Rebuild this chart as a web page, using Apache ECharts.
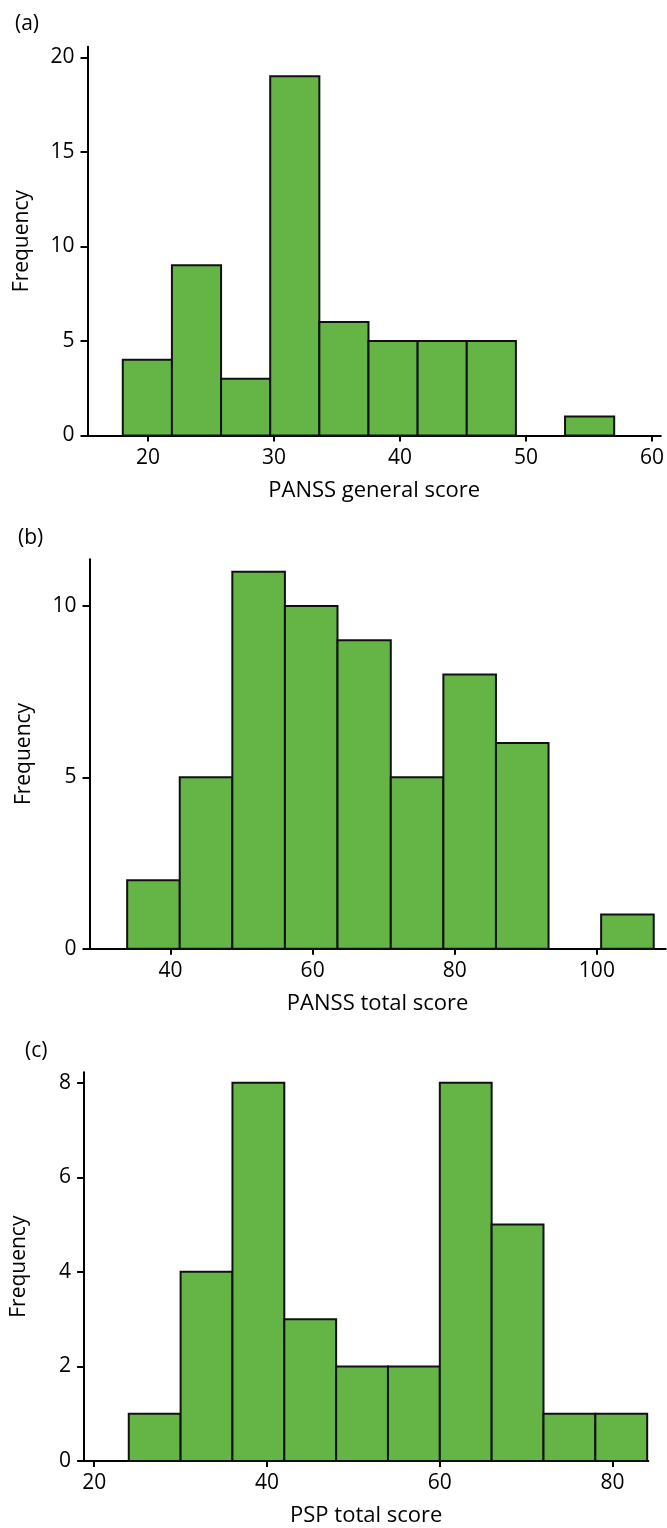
<!DOCTYPE html>
<html>
<head>
<meta charset="utf-8">
<script src="https://cdn.jsdelivr.net/npm/echarts@6/dist/echarts.min.js"></script>
<style>
  html, body { margin: 0; padding: 0; background: #fff; }
  #chart { width: 667px; height: 1528px; }
</style>
</head>
<body>
<div id="chart"></div>
<script>
// bin edges and counts
const edgesA = [18, 21.9, 25.8, 29.7, 33.6, 37.5, 41.4, 45.3, 49.2, 53.1, 57];
const countsA = [4, 9, 3, 19, 6, 5, 5, 5, 0, 1];
const ticksXA = [20, 30, 40, 50, 60];
const ticksYA = [0, 5, 10, 15, 20];

const edgesB = [33.9, 41.3, 48.7, 56.1, 63.5, 71.0, 78.4, 85.8, 93.2, 100.6, 108.0];
const countsB = [2, 5, 11, 10, 9, 5, 8, 6, 0, 1];
const ticksXB = [40, 60, 80, 100];
const ticksYB = [0, 5, 10];

const edgesC = [24, 30, 36, 42, 48, 54, 60, 66, 72, 78, 84];
const countsC = [1, 4, 8, 3, 2, 2, 8, 5, 1, 1];
const ticksXC = [20, 40, 60, 80];
const ticksYC = [0, 2, 4, 6, 8];

const FONT = "Open Sans";
const GREEN = "#64b446";

function binData(edges, counts) {
  let out = [];
  for (let i = 0; i < counts.length; i++) {
    if (counts[i] > 0) out.push([edges[i], edges[i + 1], counts[i]]);
  }
  return out;
}

function renderBin(params, api) {
  const p0 = api.coord([api.value(0), 0]);
  const p1 = api.coord([api.value(1), api.value(2)]);
  return {
    type: "rect",
    shape: { x: p0[0], y: p1[1], width: p1[0] - p0[0], height: p0[1] - p1[1] },
    style: { fill: GREEN, stroke: "#111", lineWidth: 2 },
  };
}

function xAxisOf(idx, min, max, ticks, name) {
  return {
    type: "value", gridIndex: idx, min: min, max: max,
    name: name, nameLocation: "middle", nameGap: 44,
    nameTextStyle: { fontFamily: FONT, fontSize: 22, color: "#000" },
    axisLine: { lineStyle: { color: "#000", width: 2 } },
    axisTick: { show: true, length: 6, customValues: ticks, lineStyle: { color: "#000", width: 2 } },
    axisLabel: { customValues: ticks, fontFamily: FONT, fontSize: 21, color: "#000", margin: 12 },
    splitLine: { show: false },
  };
}

function yAxisOf(idx, max, ticks) {
  return {
    type: "value", gridIndex: idx, min: 0, max: max,
    name: "Frequency", nameLocation: "middle", nameGap: 55, nameRotate: 90,
    nameTextStyle: { fontFamily: FONT, fontSize: 21, color: "#000" },
    axisLine: { show: true, lineStyle: { color: "#000", width: 2 } },
    axisTick: { show: true, length: 7, customValues: ticks, lineStyle: { color: "#000", width: 2 } },
    axisLabel: { customValues: ticks, fontFamily: FONT, fontSize: 21, color: "#000", margin: 13 },
    splitLine: { show: false },
  };
}

const chart = echarts.init(document.getElementById("chart"));
chart.setOption({
  animation: false,
  title: [
    { text: "(a)", left: 10, top: 9, textStyle: { fontFamily: FONT, fontSize: 21, fontWeight: "normal", color: "#000" } },
    { text: "(b)", left: 13, top: 523, textStyle: { fontFamily: FONT, fontSize: 21, fontWeight: "normal", color: "#000" } },
    { text: "(c)", left: 20, top: 1036, textStyle: { fontFamily: FONT, fontSize: 21, fontWeight: "normal", color: "#000" } },
  ],
  grid: [
    { left: 87.5, top: 46.7, width: 576.5, height: 388.8 },
    { left: 89.5, top: 559.3, width: 576.3, height: 389.4 },
    { left: 84.1, top: 1072.3, width: 564.2, height: 388.7 },
  ],
  xAxis: [
    xAxisOf(0, 15.2, 60.7, ticksXA, "PANSS general score"),
    xAxisOf(1, 28.6, 109.7, ticksXB, "PANSS total score"),
    xAxisOf(2, 18.83, 84.13, ticksXC, "PSP total score"),
  ],
  yAxis: [
    yAxisOf(0, 20.56, ticksYA),
    yAxisOf(1, 11.36, ticksYB),
    yAxisOf(2, 8.22, ticksYC),
  ],
  series: [
    { type: "custom", xAxisIndex: 0, yAxisIndex: 0, renderItem: renderBin, data: binData(edgesA, countsA) },
    { type: "custom", xAxisIndex: 1, yAxisIndex: 1, renderItem: renderBin, data: binData(edgesB, countsB) },
    { type: "custom", xAxisIndex: 2, yAxisIndex: 2, renderItem: renderBin, data: binData(edgesC, countsC) },
  ],
});
</script>
</body>
</html>
